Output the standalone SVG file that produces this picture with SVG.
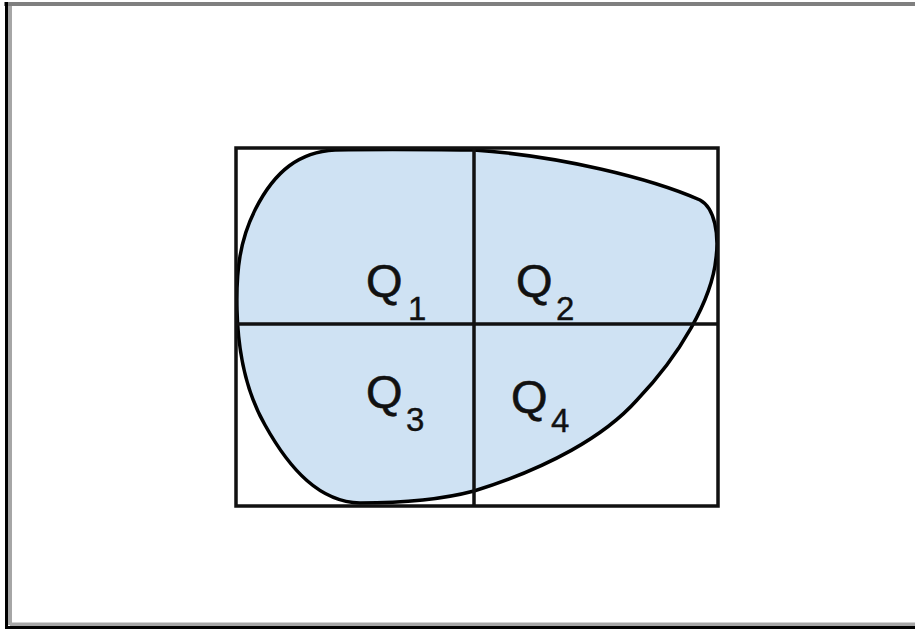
<svg xmlns="http://www.w3.org/2000/svg" width="915" height="629" viewBox="0 0 915 629">
<style>
.grid{fill:none;stroke:#111;stroke-width:3.5}
.q{font-family:"Liberation Sans",Arial,sans-serif;font-size:47px;fill:#111;stroke:#111;stroke-width:0.6}
.s{font-family:"Liberation Sans",Arial,sans-serif;font-size:33px;fill:#111;stroke:#111;stroke-width:0.4}
</style>
<rect width="915" height="629" fill="#fff"/>
<g id="frame">
<line x1="4" y1="4" x2="915" y2="4" stroke="#7f7f7f" stroke-width="4"/>
<line x1="10" y1="6" x2="10" y2="625" stroke="#a6a6a6" stroke-width="4"/>
<line x1="10" y1="624.5" x2="915" y2="624.5" stroke="#a6a6a6" stroke-width="4"/>
<line x1="6.5" y1="2" x2="6.5" y2="629" stroke="#000" stroke-width="3"/>
<line x1="5" y1="627.5" x2="915" y2="627.5" stroke="#000" stroke-width="3"/>
</g>
<g id="region">
<path d="M 474 150 C 560 156, 650 178, 700 200 C 715 208, 719 235, 716 258 C 712 300, 680 355, 637 400 C 605 436, 548 468, 474 491 C 440 500, 400 503, 360 503 C 320 502, 290 470, 265 425 C 245 390, 238 350, 237 310 C 236 270, 240 240, 255 210 C 275 170, 300 152, 335 150 C 400 149, 440 150, 474 150 Z" fill="#cfe2f3" stroke="#000" stroke-width="3.5"/>
</g>
<g id="grid">
<rect class="grid" x="236" y="148" width="482" height="358"/>
<line class="grid" x1="474" y1="148" x2="474" y2="506"/>
<line class="grid" x1="236" y1="324" x2="718" y2="324"/>
</g>
<g id="q1"><text class="q" x="366" y="297">Q</text><text class="s" x="408" y="320">1</text></g>
<g id="q2"><text class="q" x="516" y="297">Q</text><text class="s" x="556" y="320">2</text></g>
<g id="q3"><text class="q" x="366" y="408">Q</text><text class="s" x="406" y="431">3</text></g>
<g id="q4"><text class="q" x="511" y="413">Q</text><text class="s" x="551" y="432">4</text></g>
</svg>
